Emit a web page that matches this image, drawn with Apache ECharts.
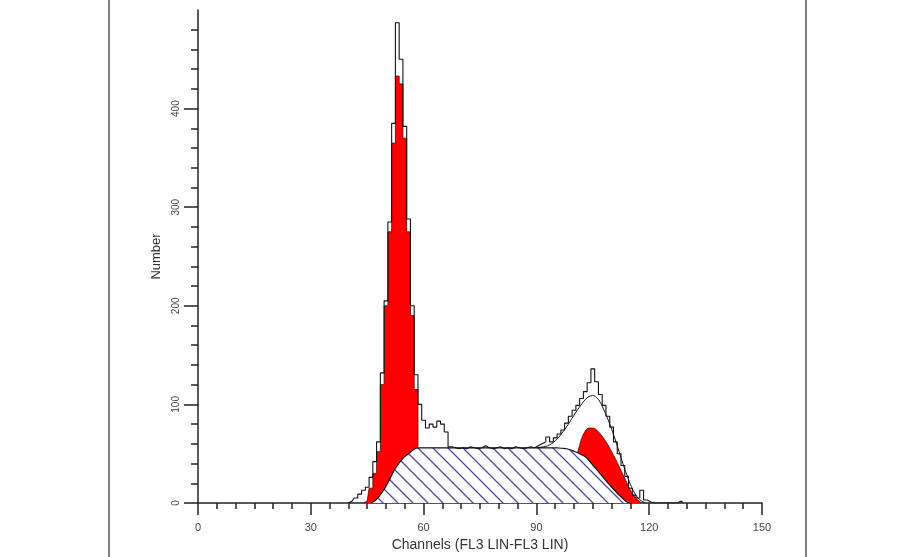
<!DOCTYPE html>
<html>
<head>
<meta charset="utf-8">
<script src="https://cdn.jsdelivr.net/npm/echarts@6/dist/echarts.min.js"></script>
<style>html,body{margin:0;padding:0;background:#fff;}#c{width:900px;height:557px;}</style>
</head>
<body>
<div id="c"></div>
<script>
// ---- data (channel index starts given per array) ----
var xTicks = [0, 30, 60, 90, 120, 150];
var yTicks = [0, 100, 200, 300, 400];

var rawStart = 40;
var rawCounts = [0,2,5,9,13,16,26,42,62,132,205,285,385,487,450,382,288,200,130,100,
  84,76,80,77,83,80,72,57,56,55,56,55,57,56,55,56,58,56,55,56,
  57,55,56,55,57,56,55,56,57,56,58,60,62,67,62,66,70,74,81,88,
  94,99,106,113,122,136,123,110,99,88,77,62,50,38,27,15,8,5,13,3,
  1,0,0,0,0,0,0,0,2,0];

var g1Start = 44;
var g1Counts = [0,2,15,30,52,120,200,275,365,433,425,370,275,190,115,55,25,8,0];

var g2Start = 94;
var g2Counts = [0,4,10,16,24,32,41,52,65,73,76,76,74,70,65,59,52,45,37,29,21,13,7,3,0];

var sStart = 46;
var sCounts = [0,2,6,11,17,24,32,38,43,47,50,53,55.5,56,56,56,56,56,56,56,
  56,56,56,56,56,56,56,56,56,56,56,56,56,56,56,56,56,56,56,56,
  56,56,56,56,56,56,56,56,56,56,55.8,55.5,55,54,52.5,51,49,47,43,38.5,
  34,29.5,25,20.5,16,12,8,4.5,1,0];

var fitStart = 90;
var fitCounts = [56,56.5,57,58,60,63,67,72,77,83,89,95,100,105,108,109,107,102,94,85,
  75,64,52,40,29,19,11,5,2,0];

function pairs(start, arr) {
  return arr.map(function (v, i) { return [start + i, v]; });
}

// hatch pattern for S-phase
var pat = document.createElement('canvas');
pat.width = 15; pat.height = 15;
var pc = pat.getContext('2d');
pc.fillStyle = '#ffffff';
pc.fillRect(0, 0, 15, 15);
pc.strokeStyle = '#4b4b9e';
pc.lineWidth = 1.3;
pc.beginPath();
pc.moveTo(-2, -2); pc.lineTo(17, 17);
pc.moveTo(13, -2); pc.lineTo(17, 2);
pc.moveTo(-2, 13); pc.lineTo(2, 17);
pc.stroke();

var chart = echarts.init(document.getElementById('c'), null, {renderer: 'canvas'});
var font = 'Liberation Sans, Arial, sans-serif';
chart.setOption({
  animation: false,
  backgroundColor: '#ffffff',
  grid: {left: 198, right: 138, top: 10, bottom: 50, containLabel: false},
  xAxis: {
    type: 'value', min: 0, max: 150, interval: 30,
    name: 'Channels (FL3 LIN-FL3 LIN)', nameLocation: 'middle', nameGap: 35,
    nameTextStyle: {fontFamily: font, fontSize: 14, color: '#333'},
    axisLine: {show: true, onZero: false, lineStyle: {color: '#222', width: 1.5}},
    axisTick: {show: true, inside: false, length: 12, lineStyle: {color: '#222', width: 1.5}},
    minorTick: {show: true, splitNumber: 6, length: 6, lineStyle: {color: '#222', width: 1.5}},
    axisLabel: {fontFamily: font, fontSize: 11, color: '#444', margin: 19,
      customValues: xTicks},
    splitLine: {show: false}
  },
  yAxis: {
    type: 'value', min: 0, max: 500, interval: 100,
    name: 'Number', nameLocation: 'middle', nameGap: 34, nameRotate: 90,
    nameTextStyle: {fontFamily: font, fontSize: 13, color: '#333'},
    axisLine: {show: true, onZero: false, lineStyle: {color: '#222', width: 1.5}},
    axisTick: {show: true, inside: false, length: 14, customValues: yTicks,
      lineStyle: {color: '#222', width: 1.5}},
    minorTick: {show: true, splitNumber: 5, length: 7, lineStyle: {color: '#222', width: 1.5}},
    axisLabel: {fontFamily: font, fontSize: 10, color: '#444', rotate: 90, margin: 17,
      customValues: yTicks},
    splitLine: {show: false}
  },
  graphic: [
    {type: 'line', shape: {x1: 109, y1: 0, x2: 109, y2: 557}, style: {stroke: '#555', lineWidth: 1.5}, silent: true},
    {type: 'line', shape: {x1: 806, y1: 0, x2: 806, y2: 557}, style: {stroke: '#555', lineWidth: 1.5}, silent: true}
  ],
  series: [
    {
      name: 'G1', type: 'line', step: 'middle', showSymbol: false, z: 2,
      data: pairs(g1Start, g1Counts),
      lineStyle: {width: 0.8, color: '#5a0000'},
      areaStyle: {color: '#ff0000', opacity: 1}
    },
    {
      name: 'G2', type: 'line', smooth: 0.4, showSymbol: false, z: 2,
      data: pairs(g2Start, g2Counts),
      lineStyle: {width: 0.8, color: '#5a0000'},
      areaStyle: {color: '#ff0000', opacity: 1}
    },
    {
      name: 'S', type: 'line', smooth: 0.4, showSymbol: false, z: 3,
      data: pairs(sStart, sCounts),
      lineStyle: {width: 1.2, color: '#111'},
      areaStyle: {color: {image: pat, repeat: 'repeat'}, opacity: 1}
    },
    {
      name: 'Fit', type: 'line', smooth: 0.4, showSymbol: false, z: 4,
      data: pairs(fitStart, fitCounts),
      lineStyle: {width: 1, color: '#111'}
    },
    {
      name: 'Raw', type: 'line', step: 'middle', showSymbol: false, z: 5,
      data: pairs(rawStart, rawCounts),
      lineStyle: {width: 1.1, color: '#111'}
    }
  ]
});
</script>
</body>
</html>
